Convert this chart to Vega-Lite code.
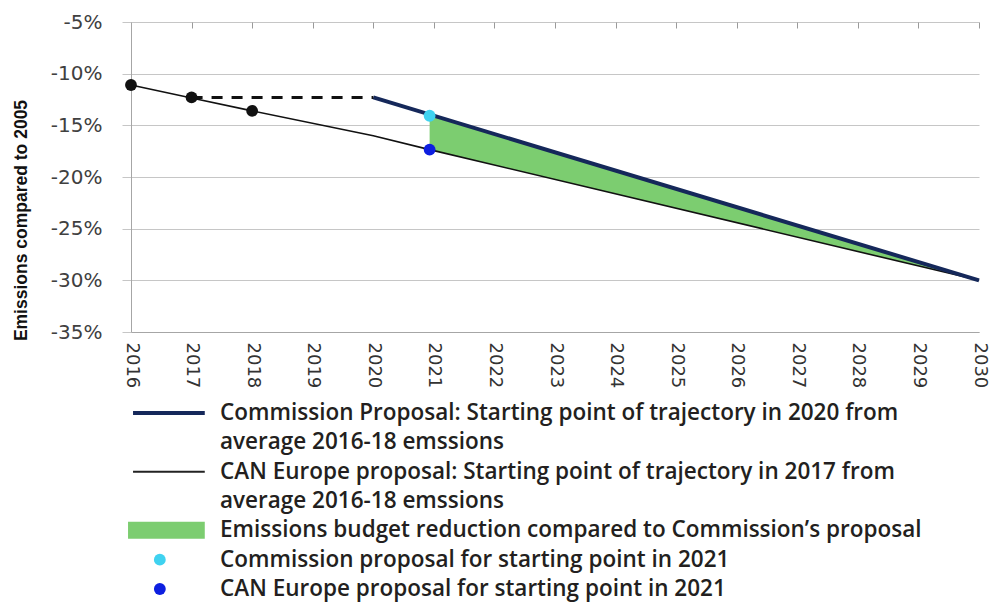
{
  "$schema": "https://vega.github.io/schema/vega-lite/v6.json",
  "padding": {"left": 12, "top": 12, "right": 5, "bottom": 20},
  "background": "white",
  "bounds": "flush",
  "spacing": 81,
  "config": {"view": {"stroke": null}},
  "datasets": {
    "can": [
      {"year": 2016, "pct": -11.1},
      {"year": 2017, "pct": -12.35},
      {"year": 2018, "pct": -13.6},
      {"year": 2020, "pct": -16.0},
      {"year": 2020.93, "pct": -17.35},
      {"year": 2030, "pct": -30.0}
    ],
    "commission": [
      {"year": 2020, "pct": -12.3},
      {"year": 2030, "pct": -30.0}
    ],
    "dashed": [
      {"year": 2017, "pct": -12.3},
      {"year": 2020, "pct": -12.3}
    ],
    "budget": [
      {"year": 2020.93, "upper": -14.07, "lower": -17.35},
      {"year": 2030, "upper": -30.0, "lower": -30.0}
    ],
    "dots": [
      {"year": 2016, "pct": -11.1, "kind": "history"},
      {"year": 2017, "pct": -12.3, "kind": "history"},
      {"year": 2018, "pct": -13.6, "kind": "history"},
      {"year": 2020.93, "pct": -14.07, "kind": "commission2021"},
      {"year": 2020.93, "pct": -17.35, "kind": "can2021"}
    ],
    "legend": [
      {"slot": "1", "text": "Commission Proposal: Starting point of trajectory in 2020 from", "sym": "commission"},
      {"slot": "2", "text": "average 2016-18 emssions", "sym": "none"},
      {"slot": "3", "text": "CAN Europe proposal: Starting point of trajectory in 2017 from", "sym": "can"},
      {"slot": "4", "text": "average 2016-18 emssions", "sym": "none"},
      {"slot": "5", "text": "Emissions budget reduction compared to Commission’s proposal", "sym": "budget"},
      {"slot": "6", "text": "Commission proposal for starting point in 2021", "sym": "commission2021"},
      {"slot": "7", "text": "CAN Europe proposal for starting point in 2021", "sym": "can2021"}
    ]
  },
  "vconcat": [
    {
      "width": 848,
      "height": 310,
      "resolve": {"axis": {"x": "independent"}},
      "layer": [
        {
          "encoding": {
            "x": {
              "field": "year", "type": "quantitative",
              "scale": {"domain": [2016, 2030], "nice": false, "zero": false},
              "axis": {
                "orient": "bottom",
                "values": [2016, 2017, 2018, 2019, 2020, 2021, 2022, 2023, 2024, 2025, 2026, 2027, 2028, 2029, 2030],
                "format": "d", "labelAngle": 90, "grid": false, "ticks": false,
                "domainColor": "#a6a6a6", "labelFont": "DejaVu Sans", "labelFontSize": 18,
                "labelColor": "#333333", "labelPadding": 10, "title": null, "labelFlush": false
              }
            },
            "y": {
              "field": "pct", "type": "quantitative",
              "scale": {"domain": [-35, -5], "nice": false, "zero": false},
              "axis": {
                "values": [-35, -30, -25, -20, -15, -10, -5],
                "labelExpr": "datum.value + '%'",
                "grid": true, "gridColor": "#c6c6c6", "tickColor": "#c6c6c6", "tickSize": 9,
                "domainColor": "#a6a6a6", "labelFont": "DejaVu Sans", "labelFontSize": 20,
                "labelColor": "#404040", "labelPadding": 20,
                "title": "Emissions compared to 2005", "titleFont": "Liberation Sans",
                "titleFontSize": 17.5, "titleFontWeight": "bold", "titleColor": "#111111",
                "titlePadding": 20, "titleY": 198
              }
            }
          },
          "layer": [
            {
              "data": {"name": "budget"},
              "mark": {"type": "area", "color": "#7ccd70", "opacity": 1},
              "encoding": {"y": {"field": "upper", "type": "quantitative"}, "y2": {"field": "lower"}}
            },
            {
              "data": {"name": "can"},
              "mark": {"type": "line", "color": "#111111", "strokeWidth": 1.6},
              "encoding": {}
            },
            {
              "data": {"name": "commission"},
              "mark": {"type": "line", "color": "#15285a", "strokeWidth": 4},
              "encoding": {}
            },
            {
              "data": {"name": "dots"},
              "mark": {"type": "circle", "size": 140, "opacity": 1},
              "encoding": {
                "color": {
                  "field": "kind", "type": "nominal",
                  "scale": {"domain": ["history", "commission2021", "can2021"], "range": ["#111111", "#3fd2f0", "#0d1fe0"]},
                  "legend": null
                }
              }
            }
          ]
        },
        {
          "data": {"name": "dashed"},
          "mark": {"type": "line", "color": "#111111", "strokeWidth": 3, "strokeDash": [11, 9]},
          "encoding": {
            "x": {
              "field": "year", "type": "quantitative",
              "axis": {
                "orient": "top",
                "values": [2016, 2017, 2018, 2019, 2020, 2021, 2022, 2023, 2024, 2025, 2026, 2027, 2028, 2029, 2030],
                "labels": false, "domain": false, "grid": false, "ticks": true,
                "tickSize": -6, "tickColor": "#9a9a9a", "title": null
              }
            },
            "y": {"field": "pct", "type": "quantitative"}
          }
        }
      ]
    },
    {
      "width": 848,
      "height": 176,
      "data": {"name": "legend"},
      "encoding": {
        "y": {"field": "slot", "type": "ordinal", "scale": {"type": "point", "padding": 0}, "axis": null}
      },
      "layer": [
        {
          "transform": [{"filter": "datum.sym === 'budget'"}],
          "mark": {"type": "rule", "color": "#7ccd70", "strokeWidth": 17, "strokeCap": "butt"},
          "encoding": {
            "x": {"datum": -0.35, "type": "quantitative", "scale": {"domain": [0, 100], "nice": false}, "axis": null},
            "x2": {"datum": 8.7}
          }
        },
        {
          "transform": [{"filter": "datum.sym === 'commission'"}],
          "mark": {"type": "rule", "color": "#15285a", "strokeWidth": 4},
          "encoding": {
            "x": {"datum": 0.24, "type": "quantitative", "scale": {"domain": [0, 100], "nice": false}, "axis": null},
            "x2": {"datum": 8.7}
          }
        },
        {
          "transform": [{"filter": "datum.sym === 'can'"}],
          "mark": {"type": "rule", "color": "#222222", "strokeWidth": 2},
          "encoding": {
            "x": {"datum": 0.24, "type": "quantitative", "scale": {"domain": [0, 100], "nice": false}, "axis": null},
            "x2": {"datum": 8.7}
          }
        },
        {
          "transform": [{"filter": "datum.sym === 'commission2021' || datum.sym === 'can2021'"}],
          "mark": {"type": "circle", "size": 140, "opacity": 1},
          "encoding": {
            "x": {"datum": 3.4, "type": "quantitative", "scale": {"domain": [0, 100], "nice": false}, "axis": null},
            "color": {
              "field": "sym", "type": "nominal",
              "scale": {"domain": ["commission2021", "can2021"], "range": ["#3fd2f0", "#0d1fe0"]},
              "legend": null
            }
          }
        },
        {
          "mark": {"type": "text", "align": "left", "baseline": "middle", "font": "Open Sans", "fontWeight": 600, "fontSize": 22.5, "color": "#231f20"},
          "encoding": {
            "x": {"datum": 10.5, "type": "quantitative", "scale": {"domain": [0, 100], "nice": false}, "axis": null},
            "text": {"field": "text"}
          }
        }
      ]
    }
  ]
}
